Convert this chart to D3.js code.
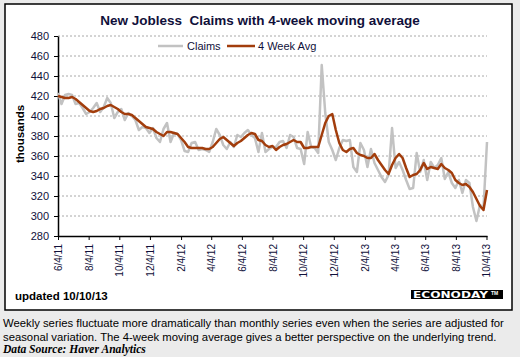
<!DOCTYPE html>
<html><head><meta charset="utf-8">
<script src="https://cdn.jsdelivr.net/npm/d3@7/dist/d3.min.js"></script>
<style>
html,body{margin:0;padding:0;background:#ebebeb;}
svg{display:block;font-family:Arial,"Liberation Sans",sans-serif;}
</style></head>
<body><svg id="c" width="520" height="357"></svg>
<script>
// ---- data ----
const startDate = "2011-06-04";   // first week-ending date
const weekCount = 123;            // weekly observations through 2013-10-05
const claims = [423,412,421,422,421,412,413,408,402,404,408,413,404,409,418,413,398,404,407,396,
  403,400,396,386,389,388,383,388,378,374,387,393,374,383,382,376,365,364,373,374,
  366,367,366,364,374,387,381,371,367,374,369,381,379,383,386,381,378,364,383,364,
  367,369,369,374,375,368,381,379,368,367,352,384,369,368,363,451,403,374,366,356,
  368,376,375,376,349,344,373,366,349,367,353,346,339,334,341,388,348,354,346,336,
  327,328,363,344,356,336,354,348,351,358,337,344,333,328,336,323,336,333,309,295,
  311,308,374];
const avg4 = [420,419,418,418,419,417,414,411,408,405,404,405,407,408,410,411,409,407,404,402,
  402,401,398,395,392,389,388,387,384,382,380,384,384,383,382,378,374,369,368,368,
  368,368,367,367,369,373,377,379,376,373,370,373,375,378,381,383,382,376,375,371,
  369,370,366,369,371,372,374,376,374,374,368,368,369,369,369,381,393,400,402,386,
  373,366,364,367,368,363,361,360,358,358,362,356,351,346,342,351,358,362,358,348,
  339,341,342,346,353,347,349,348,347,352,348,346,343,336,333,331,332,329,324,317,
  310,306,326];
const yTicks = [280,300,320,340,360,380,400,420,440,460,480];
const xTickLabels = ["6/4/11","8/4/11","10/4/11","12/4/11","2/4/12","4/4/12","6/4/12","8/4/12",
  "10/4/12","12/4/12","2/4/13","4/4/13","6/4/13","8/4/13","10/4/13"];
const seriesNames = ["Claims","4 Week Avg"];
const title = "New Jobless  Claims with 4-week moving average";
const yTitle = "thousands";
const updated = "updated 10/10/13";
const noteLines = ["Weekly series fluctuate more dramatically than monthly series even when the series are adjusted for",
  "seasonal variation. The 4-week moving average gives a better perspective on the underlying trend."];
const source = "Data Source: Haver Analytics";

// ---- build ----
const parse = d3.timeParse("%Y-%m-%d");
const parseTick = d3.timeParse("%m/%d/%y");
const t0 = parse(startDate);
const dates = d3.range(weekCount).map(i => d3.timeDay.offset(t0, 7*i));
const rows = dates.map((d,i)=>({date:d, claims:claims[i], avg:avg4[i]}));

const svg = d3.select("#c");
const navy = "#10103a";
svg.append("rect").attr("width",520).attr("height",357).attr("fill","#ebebeb");
svg.append("rect").attr("x",5).attr("y",4).attr("width",507).attr("height",306)
  .attr("fill","#fff").attr("stroke","#000").attr("stroke-width",1.5);

const x = d3.scaleTime().domain([dates[0], dates[dates.length-1]]).range([58,487]);
const y = d3.scaleLinear().domain([280,480]).range([236,36]);

// title
svg.append("text").attr("x",260).attr("y",25).attr("text-anchor","middle")
  .attr("font-size",13.5).attr("font-weight","bold").attr("fill",navy)
  .style("white-space","pre").text(title);

// gridlines
svg.append("g").selectAll("line").data(yTicks.filter(v=>v>280)).join("line")
  .attr("x1",58).attr("x2",487).attr("y1",d=>y(d)).attr("y2",d=>y(d))
  .attr("stroke","#a8a8a8").attr("stroke-width",1).attr("stroke-dasharray","2,2");

// y axis
const ya = svg.append("g").attr("transform","translate(58,0)")
  .call(d3.axisLeft(y).tickValues(yTicks).tickSize(4).tickPadding(5).tickSizeOuter(0));
ya.select(".domain").attr("stroke","#000").attr("stroke-width",1.5);
ya.selectAll(".tick line").attr("stroke","#000");
ya.selectAll("text").attr("font-size",11).attr("fill",navy).attr("font-family","Arial,'Liberation Sans',sans-serif");

svg.append("text").attr("transform","translate(24,134) rotate(-90)").attr("text-anchor","middle")
  .attr("font-size",11.5).attr("font-weight","bold").attr("fill","#000").text(yTitle);

// x axis
const xTicks = xTickLabels.map(s=>parseTick(s));
const xa = svg.append("g").attr("transform","translate(0,236)")
  .call(d3.axisBottom(x).tickValues(xTicks).tickSize(4).tickSizeOuter(0).tickFormat(d3.timeFormat("%-m/%-d/%y")));
xa.select(".domain").attr("stroke","#000").attr("stroke-width",1.5);
xa.selectAll(".tick line").attr("stroke","#000");
xa.selectAll("text").attr("font-size",10).attr("fill",navy)
  .attr("font-family","Arial,'Liberation Sans',sans-serif")
  .attr("transform","rotate(-90)").attr("text-anchor","end")
  .attr("x",-8).attr("y",0).attr("dy","0.35em");

// lines
const lineC = d3.line().x(d=>x(d.date)).y(d=>y(d.claims));
const lineA = d3.line().x(d=>x(d.date)).y(d=>y(d.avg));
svg.append("path").datum(rows).attr("d",lineC).attr("fill","none")
  .attr("stroke","#c2c2c2").attr("stroke-width",2.5).attr("stroke-linejoin","round");
svg.append("path").datum(rows).attr("d",lineA).attr("fill","none")
  .attr("stroke","#a23d0c").attr("stroke-width",2.5).attr("stroke-linejoin","round");

// legend
const leg = [{n:seriesNames[0],c:"#c2c2c2",x1:158,x2:183,tx:187},{n:seriesNames[1],c:"#a23d0c",x1:227,x2:255,tx:258}];
const lg = svg.append("g");
leg.forEach(l=>{
  lg.append("line").attr("x1",l.x1).attr("x2",l.x2).attr("y1",46).attr("y2",46)
    .attr("stroke",l.c).attr("stroke-width",2.5);
  lg.append("text").attr("x",l.tx).attr("y",50).attr("font-size",11).attr("fill",navy).text(l.n);
});

// footer inside box
svg.append("text").attr("x",15).attr("y",300).attr("font-size",11.5).attr("font-weight","bold")
  .attr("fill","#000").text(updated);
svg.append("rect").attr("x",411).attr("y",290).attr("width",92).attr("height",9).attr("fill","#000");
svg.append("text").attr("x",413).attr("y",297.8).attr("font-size",9).attr("font-weight","bold")
  .attr("font-family","'DejaVu Sans',Verdana,sans-serif")
  .attr("fill","#fff").attr("textLength",75).attr("lengthAdjust","spacingAndGlyphs").text("ECONODAY");
svg.append("text").attr("x",491).attr("y",295).attr("font-size",5).attr("font-weight","bold")
  .attr("fill","#fff").text("TM");

// notes
noteLines.forEach((s,i)=>{
  svg.append("text").attr("x",3).attr("y",327+i*14).attr("font-size",11.3).attr("fill","#000").text(s);
});
svg.append("text").attr("x",3).attr("y",353).attr("font-size",11.6)
  .attr("font-family","'Liberation Serif','DejaVu Serif',serif").attr("font-style","italic").attr("font-weight","bold")
  .attr("fill","#000").text(source);
</script></body></html>
